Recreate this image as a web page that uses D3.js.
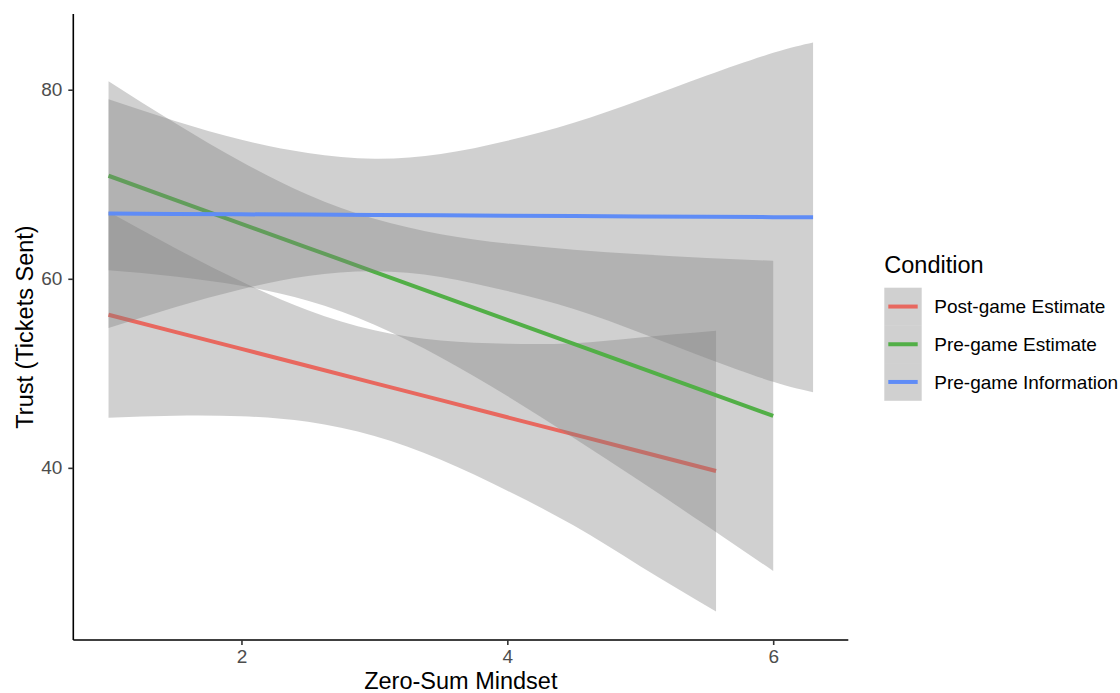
<!DOCTYPE html>
<html>
<head>
<meta charset="utf-8">
<script src="https://cdn.jsdelivr.net/npm/d3@7"></script>
<style>
  html, body { margin: 0; padding: 0; background: #ffffff; }
  svg { display: block; font-family: "Liberation Sans", Arial, Helvetica, sans-serif; }
</style>
</head>
<body>
<svg id="chart" width="1120" height="693"></svg>
<script>
// ---- Data ----
const conditions = ["Post-game Estimate", "Pre-game Estimate", "Pre-game Information"];
const conditionColors = ["#E8685F", "#52AF47", "#5F8CF6"];

// Post-game Estimate
const postX     = [1, 1.5, 2, 2.5, 3, 3.5, 4, 4.5, 5, 5.57];
const postFit   = [56.2, 54.39, 52.58, 50.77, 48.96, 47.16, 45.35, 43.54, 41.73, 39.67];
const postLower = [45.3, 45.52, 45.46, 44.87, 43.37, 40.86, 37.58, 33.89, 29.6, 24.8];
const postUpper = [67.1, 63.26, 59.7, 56.67, 54.55, 53.46, 53.12, 53.19, 53.8, 54.5];

// Pre-game Estimate
const preEstX     = [1, 1.5, 2, 2.5, 3, 3.5, 4, 4.5, 5, 5.5, 6];
const preEstFit   = [70.9, 68.36, 65.82, 63.28, 60.74, 58.2, 55.66, 53.12, 50.58, 48.04, 45.5];
const preEstLower = [60.9, 60.25, 59.26, 57.67, 55.14, 51.68, 47.59, 43.17, 38.57, 33.87, 29.1];
const preEstUpper = [80.9, 76.47, 72.38, 68.89, 66.34, 64.72, 63.73, 63.07, 62.59, 62.21, 61.9];

// Pre-game Information
const preInfoX     = [1, 1.5, 2, 2.5, 3, 3.5, 4, 4.5, 5, 5.5, 6, 6.3];
const preInfoFit   = [66.9, 66.86, 66.82, 66.79, 66.75, 66.71, 66.67, 66.64, 66.6, 66.56, 66.52, 66.5];
const preInfoLower = [54.8, 57.0, 58.9, 60.3, 60.8, 60.2, 58.7, 56.8, 54.3, 51.6, 49.1, 48.0];
const preInfoUpper = [79.0, 76.7, 74.7, 73.3, 72.7, 73.2, 74.6, 76.5, 78.9, 81.5, 83.9, 85.0];

const xTicks = [2, 4, 6];
const yTicks = [40, 60, 80];
const xTitle = "Zero-Sum Mindset";
const yTitle = "Trust (Tickets Sent)";
const legendTitle = "Condition";

// ---- Build series ----
function build(xs, fit, lo, hi) {
  return xs.map((x, i) => ({ x: x, fit: fit[i], lo: lo[i], hi: hi[i] }));
}
const series = [
  build(postX, postFit, postLower, postUpper),
  build(preEstX, preEstFit, preEstLower, preEstUpper),
  build(preInfoX, preInfoFit, preInfoLower, preInfoUpper)
];

// ---- Layout ----
const svg = d3.select("#chart");
const panel = { left: 73.3, right: 848.3, top: 14, bottom: 640 };

const allX = series.flat().map(d => d.x);
const allY = series.flat().flatMap(d => [d.lo, d.hi, d.fit]);
const xExt = d3.extent(allX), yExt = d3.extent(allY);
const xPad = (xExt[1] - xExt[0]) * 0.05, yPad = (yExt[1] - yExt[0]) * 0.05;

const x = d3.scaleLinear().domain([xExt[0] - xPad, xExt[1] + xPad]).range([panel.left, panel.right]);
const y = d3.scaleLinear().domain([yExt[0] - yPad, yExt[1] + yPad]).range([panel.bottom, panel.top]);

const ribbonFill = "#7f7f7f";
const ribbonOpacity = 0.365;

const area = d3.area()
  .x(d => x(d.x)).y0(d => y(d.lo)).y1(d => y(d.hi))
  .curve(d3.curveNatural);
const line = d3.line()
  .x(d => x(d.x)).y(d => y(d.fit))
  .curve(d3.curveLinear);

const gPlot = svg.append("g");
series.forEach((s, i) => {
  gPlot.append("path").datum(s)
    .attr("d", area)
    .attr("fill", ribbonFill)
    .attr("fill-opacity", ribbonOpacity)
    .attr("stroke", "none");
  gPlot.append("path").datum(s)
    .attr("d", line)
    .attr("fill", "none")
    .attr("stroke", conditionColors[i])
    .attr("stroke-width", 4);
});

// ---- Axes ----
const xAxis = d3.axisBottom(x).tickValues(xTicks).tickFormat(d3.format("d"))
  .tickSizeInner(5).tickSizeOuter(0).tickPadding(4.5);
const yAxis = d3.axisLeft(y).tickValues(yTicks).tickFormat(d3.format("d"))
  .tickSizeInner(5).tickSizeOuter(0).tickPadding(6);

const gx = svg.append("g").attr("transform", `translate(0,${panel.bottom})`).call(xAxis);
const gy = svg.append("g").attr("transform", `translate(${panel.left},0)`).call(yAxis);

[gx, gy].forEach(g => {
  g.select(".domain").attr("stroke", "#000").attr("stroke-width", 1.6);
  g.selectAll(".tick line").attr("stroke", "#333").attr("stroke-width", 1.6);
  g.selectAll(".tick text").attr("fill", "#4d4d4d").style("font-size", "19px")
    .style("font-family", "'Liberation Sans', Arial, Helvetica, sans-serif");
});
gx.select(".domain").attr("d", `M${panel.left},0H${panel.right}`);
gy.select(".domain").attr("d", `M0,${panel.top}V${panel.bottom}`);

// ---- Axis titles ----
svg.append("text")
  .attr("x", (panel.left + panel.right) / 2)
  .attr("y", 689)
  .attr("text-anchor", "middle")
  .attr("fill", "#000")
  .style("font-size", "23.5px")
  .text(xTitle);

svg.append("text")
  .attr("transform", `translate(33,${(panel.top + panel.bottom) / 2}) rotate(-90)`)
  .attr("text-anchor", "middle")
  .attr("fill", "#000")
  .style("font-size", "23.5px")
  .text(yTitle);

// ---- Legend ----
const lg = svg.append("g").attr("transform", "translate(884.3,0)");
lg.append("text").attr("x", 0).attr("y", 273).attr("fill", "#000")
  .style("font-size", "23.5px").text(legendTitle);

const keyW = 37.4, keyH = 37.7, keyTop = 287.7;
conditions.forEach((c, i) => {
  const ky = keyTop + i * keyH;
  lg.append("rect").attr("x", 0).attr("y", ky).attr("width", keyW).attr("height", keyH)
    .attr("fill", ribbonFill).attr("fill-opacity", ribbonOpacity);
  lg.append("line").attr("x1", 4).attr("x2", keyW - 4)
    .attr("y1", ky + keyH / 2).attr("y2", ky + keyH / 2)
    .attr("stroke", conditionColors[i]).attr("stroke-width", 4);
  lg.append("text").attr("x", 50).attr("y", ky + keyH / 2 + 6.8)
    .attr("fill", "#000").style("font-size", "19px").text(c);
});
</script>
</body>
</html>
